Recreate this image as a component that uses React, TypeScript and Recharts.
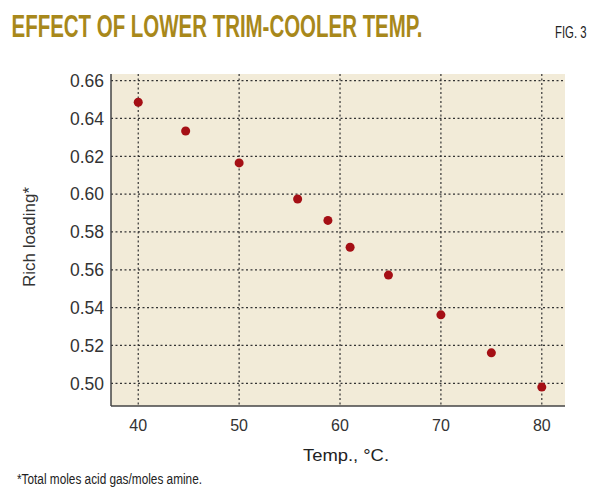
import React from "react";
import {
    ScatterChart,
    Scatter,
    XAxis,
    YAxis,
    ZAxis,
    CartesianGrid,
} from "recharts";

const temps = [40, 44.7, 50, 55.8, 58.8, 61, 64.8, 70, 75, 80];
const richLoading = [
    0.6486, 0.6334, 0.6165, 0.5974, 0.5861, 0.5719, 0.5572, 0.5362, 0.5161,
    0.498,
];
const xTicks = [40, 50, 60, 70, 80];
const yTicks = [0.5, 0.52, 0.54, 0.56, 0.58, 0.6, 0.62, 0.64, 0.66];

const points = temps.map((t, i) => ({ temp: t, loading: richLoading[i] }));

const plain = '"Liberation Sans", Arial, sans-serif';

// narrow captions: small font stretched vertically, so it looks condensed
function Caption(props: {
    x: number;
    y: number;
    len: number;
    size: number;
    sy: number;
    text: string;
    bold?: boolean;
    color?: string;
}) {
    return (
        <text
            transform={`translate(${props.x}, ${props.y}) scale(1, ${props.sy})`}
            textLength={props.len}
            lengthAdjust="spacingAndGlyphs"
            fontFamily={plain}
            fontSize={props.size}
            fontWeight={props.bold ? 700 : 400}
            fill={props.color || "#222"}
        >
            {props.text}
        </text>
    );
}

export default function App() {
    return (
        <div
            style={{
                position: "absolute",
                left: 0,
                top: 0,
                width: 600,
                height: 491,
                background: "#fff",
                overflow: "hidden",
            }}
        >
            <ScatterChart
                width={600}
                height={491}
                margin={{ top: 74, right: 35, bottom: 0, left: 0 }}
            >
                <CartesianGrid
                    xAxisId="bottom"
                    yAxisId="left"
                    fill="#f2ebd8"
                    stroke="#333"
                    strokeDasharray="2 2.5"
                    strokeWidth={1.2}
                    horizontalValues={yTicks}
                    verticalValues={xTicks}
                />
                <XAxis
                    xAxisId="bottom"
                    type="number"
                    dataKey="temp"
                    domain={[37.3, 82.3]}
                    ticks={xTicks}
                    height={85}
                    tickLine={false}
                    tickSize={0}
                    tickMargin={14}
                    axisLine={{ stroke: "#444", strokeWidth: 1.5 }}
                    tick={{ fill: "#333", fontSize: 16, fontFamily: plain }}
                />
                <XAxis
                    xAxisId="top"
                    orientation="top"
                    type="number"
                    domain={[37.3, 82.3]}
                    height={0}
                    tick={false}
                    tickLine={false}
                    axisLine={{ stroke: "#444", strokeWidth: 1.5 }}
                />
                <YAxis
                    yAxisId="left"
                    type="number"
                    dataKey="loading"
                    domain={[0.488, 0.6635]}
                    ticks={yTicks}
                    width={111}
                    tickLine={false}
                    tickSize={0}
                    tickMargin={7}
                    axisLine={{ stroke: "#444", strokeWidth: 1.5 }}
                    tickFormatter={(v: number) => v.toFixed(2)}
                    tick={{ fill: "#333", fontSize: 17.5, fontFamily: plain }}
                />
                <YAxis
                    yAxisId="right"
                    orientation="right"
                    type="number"
                    domain={[0.488, 0.6635]}
                    width={0}
                    tick={false}
                    tickLine={false}
                    axisLine={{ stroke: "#444", strokeWidth: 1.5 }}
                />
                <ZAxis range={[36, 36]} />
                <Scatter
                    xAxisId="bottom"
                    yAxisId="left"
                    data={points}
                    fill="#a50f15"
                    isAnimationActive={false}
                />
            </ScatterChart>

            <svg
                width={600}
                height={491}
                style={{ position: "absolute", left: 0, top: 0, pointerEvents: "none" }}
            >
                <Caption
                    x={11.5}
                    y={36.5}
                    len={411}
                    size={20.3}
                    sy={1.58}
                    bold
                    color="#a8881b"
                    text="EFFECT OF LOWER TRIM-COOLER TEMP."
                />
                <Caption x={555} y={37.7} len={31.5} size={11.3} sy={1.45} text="FIG. 3" />
                <Caption x={303} y={461} len={86} size={16} sy={1.05} text="Temp., °C." />
                <Caption
                    x={17}
                    y={484.3}
                    len={185}
                    size={11.7}
                    sy={1.23}
                    text="*Total moles acid gas/moles amine."
                />
                <text
                    transform="translate(35, 237) rotate(-90)"
                    textAnchor="middle"
                    fontFamily={plain}
                    fontSize={17}
                    fill="#333"
                >
                    Rich loading*
                </text>
            </svg>
        </div>
    );
}
